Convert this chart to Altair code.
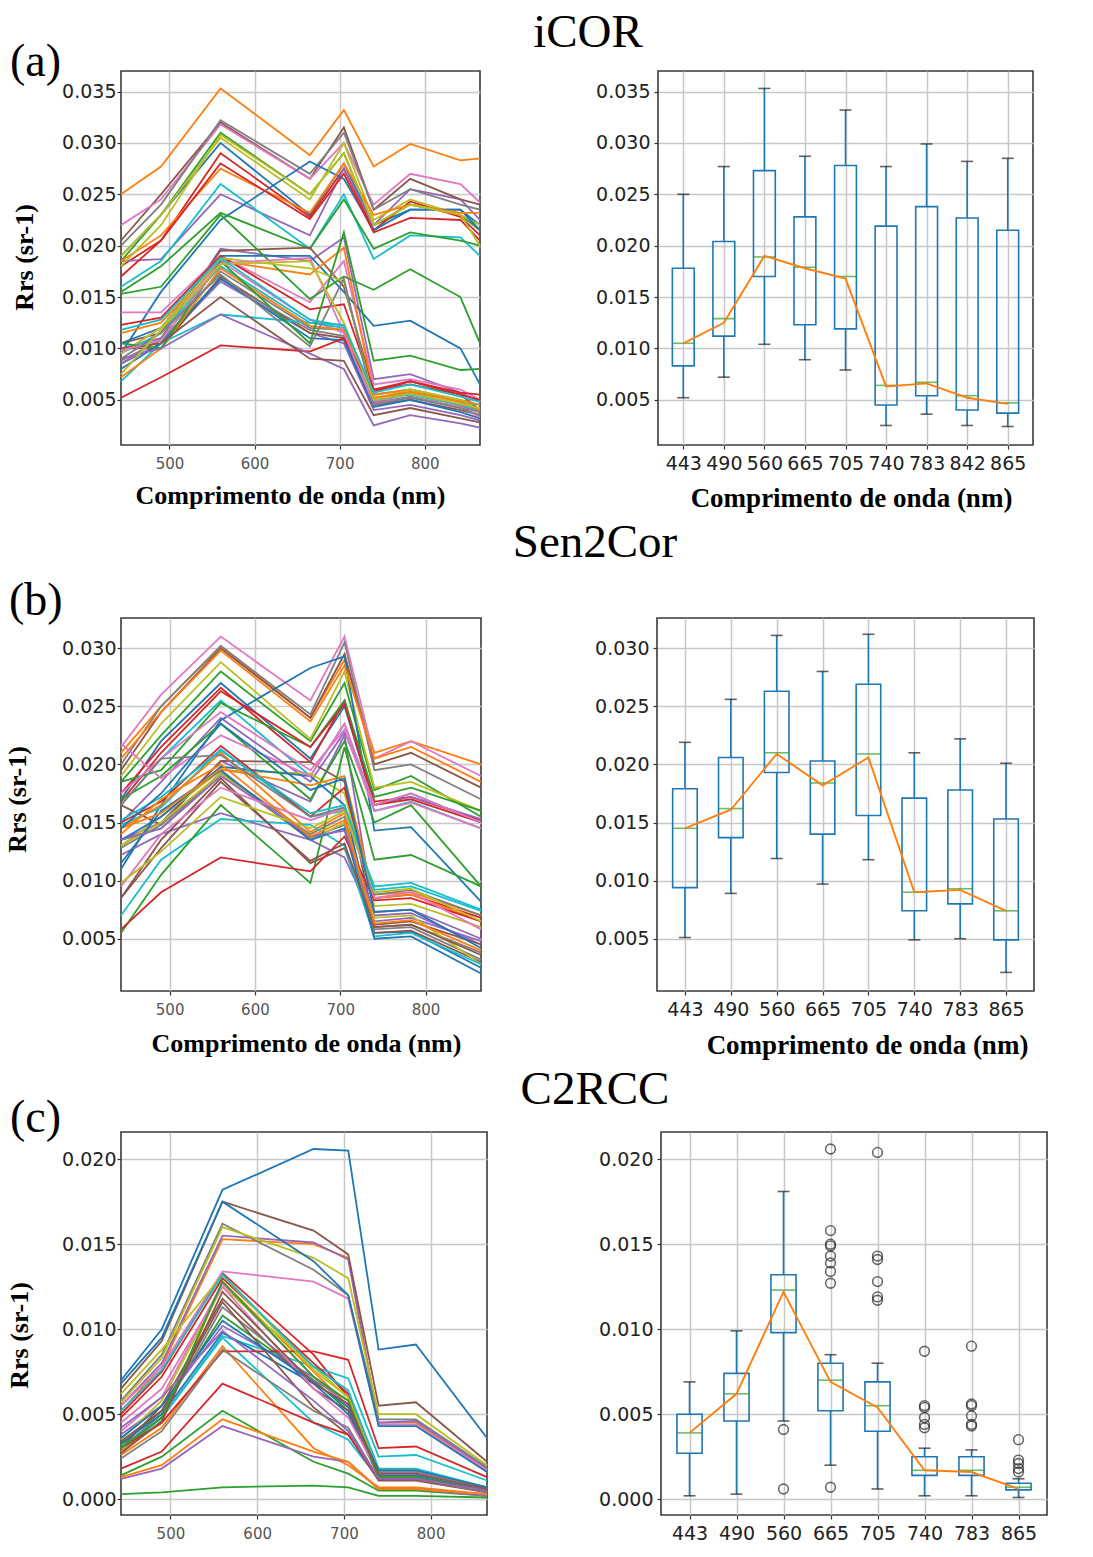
import json
import altair as alt
import pandas as pd

TAB10 = ["#1f77b4", "#ff7f0e", "#2ca02c", "#d62728", "#9467bd",
         "#8c564b", "#e377c2", "#7f7f7f", "#bcbd22", "#17becf"]
BLUE = "#1f77b4"
ORANGE = "#ff7f0e"
GREEN = "#2ca02c"

panel_titles = ["iCOR", "Sen2Cor", "C2RCC"]
panel_letters = ["(a)", "(b)", "(c)"]
x_title = "Comprimento de onda (nm)"
y_title = "Rrs (sr-1)"

# ---------------- iCOR ----------------
icor_bands = [443, 490, 560, 665, 705, 740, 783, 842, 865]
icor_spectra = [
    [0.019, 0.023, 0.030, 0.023, 0.028, 0.022, 0.0235, 0.0235, 0.022],
    [0.025, 0.0277, 0.0353, 0.0288, 0.0332, 0.0277, 0.0299, 0.0283, 0.0285],
    [0.0185, 0.023, 0.031, 0.025, 0.029, 0.022, 0.024, 0.023, 0.0215],
    [0.018, 0.0205, 0.029, 0.0228, 0.0275, 0.0215, 0.0243, 0.0228, 0.021],
    [0.0185, 0.0187, 0.025, 0.021, 0.0275, 0.022, 0.0255, 0.0245, 0.0225],
    [0.0205, 0.025, 0.032, 0.0265, 0.0315, 0.0235, 0.0265, 0.0245, 0.024],
    [0.022, 0.0245, 0.0318, 0.0265, 0.030, 0.024, 0.027, 0.026, 0.0242],
    [0.020, 0.024, 0.0322, 0.027, 0.031, 0.0235, 0.0255, 0.024, 0.0235],
    [0.019, 0.023, 0.0305, 0.0245, 0.030, 0.0225, 0.0245, 0.023, 0.022],
    [0.016, 0.0185, 0.026, 0.0197, 0.025, 0.0187, 0.021, 0.0208, 0.019],
    [0.0095, 0.0155, 0.0225, 0.0282, 0.0265, 0.0215, 0.0235, 0.0235, 0.0215],
    [0.0185, 0.021, 0.0275, 0.0232, 0.028, 0.023, 0.024, 0.0232, 0.0232],
    [0.0155, 0.018, 0.0232, 0.0197, 0.0245, 0.0197, 0.0213, 0.0205, 0.020],
    [0.017, 0.0205, 0.028, 0.0226, 0.027, 0.0213, 0.0227, 0.0225, 0.0205],
    [0.010, 0.011, 0.0197, 0.0185, 0.0208, 0.007, 0.0075, 0.0057, 0.0048],
    [0.0105, 0.0115, 0.0195, 0.0198, 0.016, 0.006, 0.0065, 0.0055, 0.004],
    [0.0135, 0.0135, 0.019, 0.0145, 0.0185, 0.0065, 0.007, 0.006, 0.005],
    [0.0085, 0.011, 0.0175, 0.012, 0.0118, 0.005, 0.0057, 0.0045, 0.004],
    [0.018, 0.022, 0.0308, 0.025, 0.029, 0.022, 0.024, 0.023, 0.020],
    [0.0095, 0.0115, 0.018, 0.0125, 0.0123, 0.0055, 0.006, 0.0048, 0.0045],
    [0.0105, 0.012, 0.019, 0.019, 0.0155, 0.0122, 0.0127, 0.010, 0.0065],
    [0.0115, 0.0125, 0.0185, 0.0172, 0.0198, 0.0055, 0.006, 0.005, 0.0045],
    [0.0153, 0.016, 0.023, 0.0148, 0.017, 0.0157, 0.0177, 0.015, 0.0105],
    [0.0123, 0.013, 0.019, 0.0138, 0.0143, 0.006, 0.0068, 0.0055, 0.005],
    [0.0085, 0.0105, 0.0165, 0.0115, 0.0105, 0.004, 0.0045, 0.0035, 0.003],
    [0.010, 0.010, 0.017, 0.0115, 0.011, 0.0045, 0.005, 0.004, 0.0035],
    [0.0095, 0.012, 0.0185, 0.0128, 0.0115, 0.0048, 0.0056, 0.0045, 0.0038],
    [0.0088, 0.0108, 0.0167, 0.0118, 0.0112, 0.0047, 0.0053, 0.0043, 0.0038],
    [0.0095, 0.012, 0.0188, 0.0178, 0.0165, 0.005, 0.006, 0.005, 0.004],
    [0.0068, 0.0105, 0.0133, 0.0125, 0.012, 0.005, 0.0055, 0.0045, 0.004],
    [0.008, 0.0105, 0.0168, 0.011, 0.0108, 0.0043, 0.005, 0.0038, 0.0032],
    [0.0072, 0.010, 0.0178, 0.0122, 0.0118, 0.0052, 0.0058, 0.0048, 0.004],
    [0.0105, 0.010, 0.0185, 0.0105, 0.0213, 0.0088, 0.0093, 0.0079, 0.008],
    [0.0052, 0.0072, 0.0103, 0.0097, 0.011, 0.0058, 0.0068, 0.0057, 0.0055],
    [0.009, 0.010, 0.0133, 0.0095, 0.008, 0.0025, 0.0035, 0.0027, 0.0023],
    [0.010, 0.0105, 0.015, 0.009, 0.0088, 0.0035, 0.0042, 0.0032, 0.0028],
    [0.0098, 0.0108, 0.0183, 0.0188, 0.0115, 0.0046, 0.0052, 0.0043, 0.0033],
    [0.009, 0.0115, 0.0172, 0.0102, 0.0168, 0.0045, 0.0052, 0.0042, 0.0035],
    [0.0075, 0.0118, 0.0182, 0.0185, 0.0125, 0.005, 0.0056, 0.0046, 0.0042],
    [0.0118, 0.0128, 0.0188, 0.0128, 0.0122, 0.0057, 0.0065, 0.0053, 0.0048],
]
icor_whisker_low = [0.0052, 0.0072, 0.0104, 0.0089, 0.0079, 0.0025, 0.0036, 0.0025, 0.0024]
icor_q1 = [0.0083, 0.0112, 0.0170, 0.0123, 0.0119, 0.0045, 0.0054, 0.0040, 0.0037]
icor_median = [0.0105, 0.0129, 0.0189, 0.0179, 0.0170, 0.0064, 0.0067, 0.0054, 0.0047]
icor_q3 = [0.0178, 0.0204, 0.0273, 0.0228, 0.0278, 0.0219, 0.0238, 0.0227, 0.0215]
icor_whisker_high = [0.0250, 0.0277, 0.0353, 0.0287, 0.0332, 0.0277, 0.0299, 0.0282, 0.0285]
icor_trend = [0.0105, 0.0125, 0.0190, 0.0178, 0.0168, 0.0063, 0.0066, 0.0052, 0.0046]

# ---------------- Sen2Cor ----------------
s2c_bands = [443, 490, 560, 665, 705, 740, 783, 865]
s2c_spectra = [
    [0.017, 0.022, 0.027, 0.0205, 0.025, 0.0165, 0.0175, 0.015],
    [0.021, 0.025, 0.0302, 0.024, 0.029, 0.021, 0.022, 0.020],
    [0.0185, 0.0225, 0.028, 0.022, 0.027, 0.0178, 0.019, 0.0155],
    [0.0175, 0.0215, 0.0266, 0.0202, 0.0255, 0.0168, 0.0172, 0.0152],
    [0.015, 0.0185, 0.024, 0.0185, 0.0228, 0.0165, 0.0172, 0.0153],
    [0.0195, 0.0245, 0.030, 0.024, 0.0295, 0.020, 0.021, 0.018],
    [0.0215, 0.026, 0.031, 0.0255, 0.031, 0.0205, 0.022, 0.019],
    [0.020, 0.025, 0.0302, 0.0243, 0.0305, 0.0195, 0.020, 0.017],
    [0.019, 0.0235, 0.0288, 0.0222, 0.028, 0.018, 0.0185, 0.016],
    [0.0165, 0.0205, 0.0255, 0.019, 0.0235, 0.016, 0.0168, 0.0145],
    [0.011, 0.0165, 0.0238, 0.0283, 0.0293, 0.0143, 0.0146, 0.0082],
    [0.0205, 0.0245, 0.0298, 0.0237, 0.0285, 0.0205, 0.0215, 0.0185],
    [0.0185, 0.0195, 0.0253, 0.0215, 0.0255, 0.0172, 0.018, 0.016],
    [0.0168, 0.021, 0.0263, 0.0215, 0.0252, 0.0165, 0.017, 0.015],
    [0.0135, 0.015, 0.0203, 0.0168, 0.0225, 0.007, 0.0072, 0.0045],
    [0.0165, 0.0148, 0.0203, 0.0202, 0.0185, 0.0062, 0.0065, 0.0045],
    [0.0175, 0.0205, 0.0245, 0.0195, 0.023, 0.016, 0.0167, 0.0145],
    [0.0135, 0.0145, 0.0193, 0.014, 0.0155, 0.006, 0.0062, 0.0038],
    [0.013, 0.0155, 0.0195, 0.0192, 0.0175, 0.0078, 0.008, 0.006],
    [0.0148, 0.0163, 0.0213, 0.0155, 0.016, 0.0095, 0.0098, 0.0075],
    [0.0135, 0.0155, 0.0198, 0.019, 0.0165, 0.0055, 0.0056, 0.0025],
    [0.0145, 0.0165, 0.021, 0.0142, 0.0158, 0.0088, 0.009, 0.007],
    [0.017, 0.019, 0.0235, 0.017, 0.022, 0.015, 0.0165, 0.0095],
    [0.015, 0.0168, 0.0216, 0.0155, 0.018, 0.0085, 0.0088, 0.0068],
    [0.0122, 0.014, 0.0158, 0.0135, 0.012, 0.0065, 0.0068, 0.0048],
    [0.0085, 0.0135, 0.0188, 0.0115, 0.0128, 0.0055, 0.0057, 0.003],
    [0.0218, 0.0188, 0.0225, 0.019, 0.0235, 0.0165, 0.0175, 0.015],
    [0.0128, 0.0148, 0.0192, 0.0137, 0.0148, 0.0058, 0.006, 0.0032],
    [0.013, 0.015, 0.0192, 0.0135, 0.015, 0.0068, 0.007, 0.0028],
    [0.007, 0.0118, 0.0153, 0.0148, 0.013, 0.0052, 0.0055, 0.0028],
    [0.0115, 0.016, 0.0195, 0.0135, 0.0145, 0.005, 0.0052, 0.002],
    [0.0145, 0.0158, 0.0196, 0.0182, 0.019, 0.0085, 0.0088, 0.0065],
    [0.0055, 0.0105, 0.0165, 0.0098, 0.0215, 0.0118, 0.0122, 0.0095],
    [0.0058, 0.009, 0.012, 0.0108, 0.0138, 0.0083, 0.0085, 0.0065],
    [0.0135, 0.0145, 0.019, 0.0138, 0.0143, 0.0073, 0.0075, 0.005],
    [0.0085, 0.0128, 0.0185, 0.0117, 0.0132, 0.006, 0.0062, 0.0036],
    [0.0095, 0.014, 0.018, 0.0152, 0.0162, 0.0085, 0.009, 0.0058],
    [0.0165, 0.0205, 0.0208, 0.0155, 0.0163, 0.0088, 0.0092, 0.007],
    [0.0098, 0.0125, 0.0172, 0.0145, 0.016, 0.009, 0.0093, 0.0065],
    [0.0152, 0.0172, 0.0212, 0.0158, 0.0165, 0.0092, 0.0095, 0.0074],
    [0.0145, 0.0175, 0.0235, 0.0178, 0.0188, 0.0073, 0.0075, 0.0042],
    [0.014, 0.017, 0.020, 0.0138, 0.0152, 0.0063, 0.0066, 0.004],
]
s2c_whisker_low = [0.0051, 0.0089, 0.0119, 0.0097, 0.0118, 0.0049, 0.0050, 0.0021]
s2c_q1 = [0.0094, 0.0137, 0.0193, 0.0140, 0.0156, 0.0074, 0.0080, 0.0049]
s2c_median = [0.0145, 0.0162, 0.0210, 0.0184, 0.0209, 0.0090, 0.0093, 0.0074]
s2c_q3 = [0.0179, 0.0206, 0.0263, 0.0203, 0.0269, 0.0171, 0.0178, 0.0153]
s2c_whisker_high = [0.0219, 0.0256, 0.0311, 0.0280, 0.0312, 0.0210, 0.0222, 0.0201]
s2c_trend = [0.0145, 0.0161, 0.0209, 0.0182, 0.0206, 0.0090, 0.0092, 0.0074]

# ---------------- C2RCC ----------------
c2r_bands = [443, 490, 560, 665, 705, 740, 783, 865]
c2r_spectra = [
    [0.007, 0.010, 0.0182, 0.0206, 0.0205, 0.0088, 0.0091, 0.0036],
    [0.0052, 0.0078, 0.0153, 0.015, 0.0142, 0.0045, 0.0045, 0.0017],
    [0.0032, 0.0052, 0.0108, 0.007, 0.0052, 0.0013, 0.0013, 0.0005],
    [0.005, 0.0075, 0.0133, 0.0085, 0.006, 0.0016, 0.0016, 0.0006],
    [0.0055, 0.008, 0.0155, 0.0151, 0.0141, 0.0045, 0.0046, 0.0018],
    [0.0065, 0.0093, 0.0175, 0.0158, 0.0144, 0.0055, 0.0057, 0.0022],
    [0.0055, 0.0078, 0.0134, 0.0128, 0.0118, 0.0044, 0.0044, 0.0017],
    [0.0058, 0.0085, 0.0162, 0.0135, 0.012, 0.0047, 0.0047, 0.0019],
    [0.0057, 0.0083, 0.016, 0.0142, 0.013, 0.005, 0.005, 0.002],
    [0.0028, 0.0048, 0.0096, 0.0078, 0.0071, 0.0025, 0.0026, 0.0011],
    [0.0068, 0.0095, 0.0175, 0.014, 0.012, 0.0043, 0.0043, 0.0016],
    [0.0028, 0.0045, 0.0128, 0.0075, 0.0055, 0.0013, 0.0013, 0.0005],
    [0.0014, 0.0025, 0.0052, 0.0022, 0.0015, 0.0005, 0.0005, 0.0002],
    [0.0048, 0.0072, 0.013, 0.008, 0.0062, 0.0018, 0.0017, 0.0007],
    [0.0038, 0.0055, 0.0102, 0.0072, 0.0055, 0.0016, 0.0016, 0.0006],
    [0.003, 0.0055, 0.0118, 0.0065, 0.0052, 0.0014, 0.0014, 0.0006],
    [0.004, 0.006, 0.0127, 0.0072, 0.0055, 0.0015, 0.0015, 0.0006],
    [0.003, 0.005, 0.0113, 0.007, 0.0058, 0.0015, 0.0015, 0.0006],
    [0.0035, 0.0058, 0.0125, 0.0078, 0.006, 0.0017, 0.0017, 0.0007],
    [0.003, 0.0048, 0.0095, 0.0045, 0.0035, 0.0012, 0.0012, 0.0004],
    [0.0033, 0.005, 0.0098, 0.0068, 0.005, 0.0014, 0.0014, 0.0005],
    [0.0026, 0.0042, 0.009, 0.003, 0.002, 0.0007, 0.0007, 0.0003],
    [0.0003, 0.0004, 0.0007, 0.0008, 0.0007, 0.0002, 0.0002, 0.0001],
    [0.003, 0.0045, 0.0087, 0.0087, 0.0082, 0.003, 0.0031, 0.0013],
    [0.0012, 0.0018, 0.0043, 0.0025, 0.0022, 0.0006, 0.0006, 0.0002],
    [0.0034, 0.0052, 0.0116, 0.0054, 0.0038, 0.0011, 0.0011, 0.0004],
    [0.0045, 0.0065, 0.0125, 0.0065, 0.0048, 0.0015, 0.0015, 0.0006],
    [0.0024, 0.004, 0.0088, 0.0052, 0.0042, 0.0012, 0.0012, 0.0004],
    [0.0062, 0.0088, 0.0132, 0.0076, 0.006, 0.0017, 0.0017, 0.0007],
    [0.0052, 0.0076, 0.0132, 0.0078, 0.0064, 0.0018, 0.0018, 0.0007],
    [0.0036, 0.0055, 0.0105, 0.0069, 0.0054, 0.0017, 0.0017, 0.0007],
    [0.0013, 0.002, 0.0047, 0.0028, 0.0022, 0.0006, 0.0006, 0.0003],
    [0.003, 0.0048, 0.0128, 0.0072, 0.0058, 0.0013, 0.0013, 0.0005],
    [0.0018, 0.0028, 0.0068, 0.0045, 0.0038, 0.0012, 0.0012, 0.0005],
    [0.0042, 0.006, 0.0099, 0.0058, 0.004, 0.0012, 0.0012, 0.0005],
    [0.0027, 0.0046, 0.0122, 0.0068, 0.0056, 0.0015, 0.0015, 0.0006],
]
c2r_whisker_low = [0.0002, 0.0003, 0.0046, 0.0020, 0.0006, 0.0002, 0.0002, 0.0001]
c2r_q1 = [0.0027, 0.0046, 0.0098, 0.0052, 0.0040, 0.0014, 0.0014, 0.00055]
c2r_median = [0.0039, 0.0062, 0.0123, 0.0070, 0.0055, 0.0017, 0.0017, 0.0007]
c2r_q3 = [0.0050, 0.0074, 0.0132, 0.0080, 0.0069, 0.0025, 0.0025, 0.00094]
c2r_whisker_high = [0.0069, 0.0099, 0.0181, 0.0085, 0.0080, 0.0030, 0.0029, 0.0012]
c2r_trend = [0.0039, 0.0062, 0.0122, 0.0069, 0.0054, 0.0017, 0.0016, 0.0006]
c2r_outlier_band = [560, 560,
                    665, 665, 665, 665, 665, 665, 665, 665, 665,
                    705, 705, 705, 705, 705, 705,
                    740, 740, 740, 740, 740, 740,
                    783, 783, 783, 783, 783, 783,
                    865, 865, 865, 865, 865]
c2r_outlier_value = [0.0041, 0.0006,
                     0.0206, 0.0158, 0.0150, 0.0149, 0.0143, 0.0139, 0.0134, 0.0127, 0.0007,
                     0.0204, 0.0143, 0.0141, 0.0128, 0.0119, 0.0117,
                     0.0087, 0.0055, 0.0054, 0.0048, 0.0044, 0.0042,
                     0.0090, 0.0056, 0.0055, 0.0049, 0.0044, 0.0043,
                     0.0035, 0.0023, 0.0021, 0.0018, 0.0016]


def spectra_frame(bands, spectra):
    rows = []
    for i, s in enumerate(spectra):
        for b, v in zip(bands, s):
            rows.append({"wavelength": b, "rrs": v, "line": i, "cidx": i % 10})
    return pd.DataFrame(rows)


def left_panel(bands, spectra, ydom, yticks, w, h, letter, lx, ly,
               ytx, yty, xt, xtx, xty):
    df = spectra_frame(bands, spectra)
    xaxis = alt.Axis(values=[500, 600, 700, 800], format="d", labelFontSize=15,
                     labelColor="#555555", title=xt, titleX=xtx, titleY=xty,
                     titleBaseline="alphabetic", titleFontSize=26, labelPadding=7)
    yaxis = alt.Axis(values=yticks, format=".3f", title=y_title, titleX=ytx,
                     titleY=yty, titleBaseline="bottom", titleAngle=270,
                     titleFontSize=26, labelPadding=1)
    lines = alt.Chart(df).mark_line(strokeWidth=1.8).encode(
        x=alt.X("wavelength:Q", scale=alt.Scale(domain=[443, 865], nice=False, zero=False), axis=xaxis),
        y=alt.Y("rrs:Q", scale=alt.Scale(domain=ydom, nice=False, zero=False), axis=yaxis),
        color=alt.Color("cidx:N", scale=alt.Scale(domain=list(range(10)), range=TAB10), legend=None),
        detail="line:N",
    )
    lab = alt.Chart(pd.DataFrame({"t": [letter]})).mark_text(
        font="Liberation Serif", fontSize=46, align="left", baseline="alphabetic", color="black"
    ).encode(text="t:N", x=alt.value(lx), y=alt.value(ly))
    return alt.layer(lines, lab).properties(width=w, height=h)


def right_panel(bands, wlo, q1, med, q3, whi, trend, ydom, yticks, w, h,
                title, tx, ty, xt, xtx, xty, out_band=None, out_val=None):
    n = len(bands)
    pos = list(range(1, n + 1))
    box = pd.DataFrame({"pos": pos, "wlo": wlo, "q1": q1, "med": med,
                        "q3": q3, "whi": whi, "trend": trend})
    step = w / n
    bw = step * 0.5 + 1
    labels = json.dumps([str(b) for b in bands])
    xaxis = alt.Axis(values=pos, labelExpr=f"{labels}[datum.value - 1]", title=xt,
                     titleX=xtx, titleY=xty, titleBaseline="alphabetic",
                     titleFontSize=27, labelFontSize=19, labelPadding=5)
    yaxis = alt.Axis(values=yticks, format=".3f", title="", labelPadding=4)

    def X():
        return alt.X("pos:Q", scale=alt.Scale(domain=[0.5, n + 0.5], nice=False, zero=False), axis=xaxis)

    def Y(f):
        return alt.Y(f"{f}:Q", scale=alt.Scale(domain=ydom, nice=False, zero=False), axis=yaxis)

    base = alt.Chart(box)
    layers = [
        base.mark_rule(color=BLUE, strokeWidth=1.6).encode(x=X(), y=Y("q3"), y2="whi"),
        base.mark_rule(color=BLUE, strokeWidth=1.6).encode(x=X(), y=Y("wlo"), y2="q1"),
        base.mark_bar(filled=False, color=BLUE, strokeWidth=1.6, size=bw).encode(x=X(), y=Y("q1"), y2="q3"),
        base.mark_tick(color="#222222", size=12, thickness=1.6, orient="horizontal").encode(x=X(), y=Y("whi")),
        base.mark_tick(color="#222222", size=12, thickness=1.6, orient="horizontal").encode(x=X(), y=Y("wlo")),
        base.mark_tick(color=GREEN, size=bw, thickness=1.6, orient="horizontal").encode(x=X(), y=Y("med")),
    ]
    if out_band is not None:
        od = pd.DataFrame({"pos": [bands.index(b) + 1 for b in out_band], "val": out_val})
        layers.append(alt.Chart(od).mark_point(shape="circle", filled=False, color="#2a2a2a",
                                               size=95, strokeWidth=1.6).encode(x=X(), y=Y("val")))
    layers.append(base.mark_line(color=ORANGE, strokeWidth=1.9).encode(x=X(), y=Y("trend")))
    layers.append(alt.Chart(pd.DataFrame({"t": [title]})).mark_text(
        font="Liberation Serif", fontSize=47, align="center", baseline="alphabetic", color="black"
    ).encode(text="t:N", x=alt.value(tx), y=alt.value(ty)))
    return alt.layer(*layers).properties(width=w, height=h)


ticks_a = [0.005, 0.010, 0.015, 0.020, 0.025, 0.030, 0.035]
ticks_b = [0.005, 0.010, 0.015, 0.020, 0.025, 0.030]
ticks_c = [0.000, 0.005, 0.010, 0.015, 0.020]
dom_a = [0.0006, 0.0370]
dom_b = [0.0005, 0.0326]
dom_c = [-0.00093, 0.0216]

left_a = left_panel(icor_bands, icor_spectra, dom_a, ticks_a, 359, 374, panel_letters[0], -111, 5,
                    -84, 186, x_title, 169, 58)
right_a = right_panel(icor_bands, icor_whisker_low, icor_q1, icor_median, icor_q3, icor_whisker_high,
                      icor_trend, dom_a, ticks_a, 375, 374, panel_titles[0], -70, -24,
                      x_title, 193, 61)

left_b = left_panel(s2c_bands, s2c_spectra, dom_b, ticks_b, 360, 373, panel_letters[1], -112, -3,
                    -91, 181, x_title, 185, 60)
right_b = right_panel(s2c_bands, s2c_whisker_low, s2c_q1, s2c_median, s2c_q3, s2c_whisker_high,
                      s2c_trend, dom_b, ticks_b, 377, 373, panel_titles[1], -62, -61,
                      x_title, 210, 62)

left_c = left_panel(c2r_bands, c2r_spectra, dom_c, ticks_c, 366, 383, panel_letters[2], -111, 0,
                    -89, 203, "", 0, 0)
right_c = right_panel(c2r_bands, c2r_whisker_low, c2r_q1, c2r_median, c2r_q3, c2r_whisker_high,
                      c2r_trend, dom_c, ticks_c, 386, 383, panel_titles[2], -66, -28,
                      "", 0, 0, c2r_outlier_band, c2r_outlier_value)

row_a = alt.hconcat(left_a, right_a, spacing=178, bounds="flush")
row_b = alt.hconcat(left_b, right_b, spacing=176, bounds="flush")
row_c = alt.hconcat(left_c, right_c, spacing=174, bounds="flush")

chart = alt.vconcat(row_a, row_b, row_c, spacing=6).properties(
    padding={"left": 3, "top": 8, "right": 10, "bottom": 10},
    background="white",
).configure_view(
    stroke="#3a3a3a", strokeWidth=1.6
).configure_axis(
    labelFont="DejaVu Sans", labelFontSize=19, labelColor="#222222",
    tickColor="#333333", tickSize=4, tickWidth=1.2,
    gridColor="#c8c8c8", gridWidth=1.5, domain=False,
    titleFont="Liberation Serif", titleFontWeight="bold", titleColor="black",
)

chart.save("out.html", embed_options={"renderer": "svg", "actions": False})
